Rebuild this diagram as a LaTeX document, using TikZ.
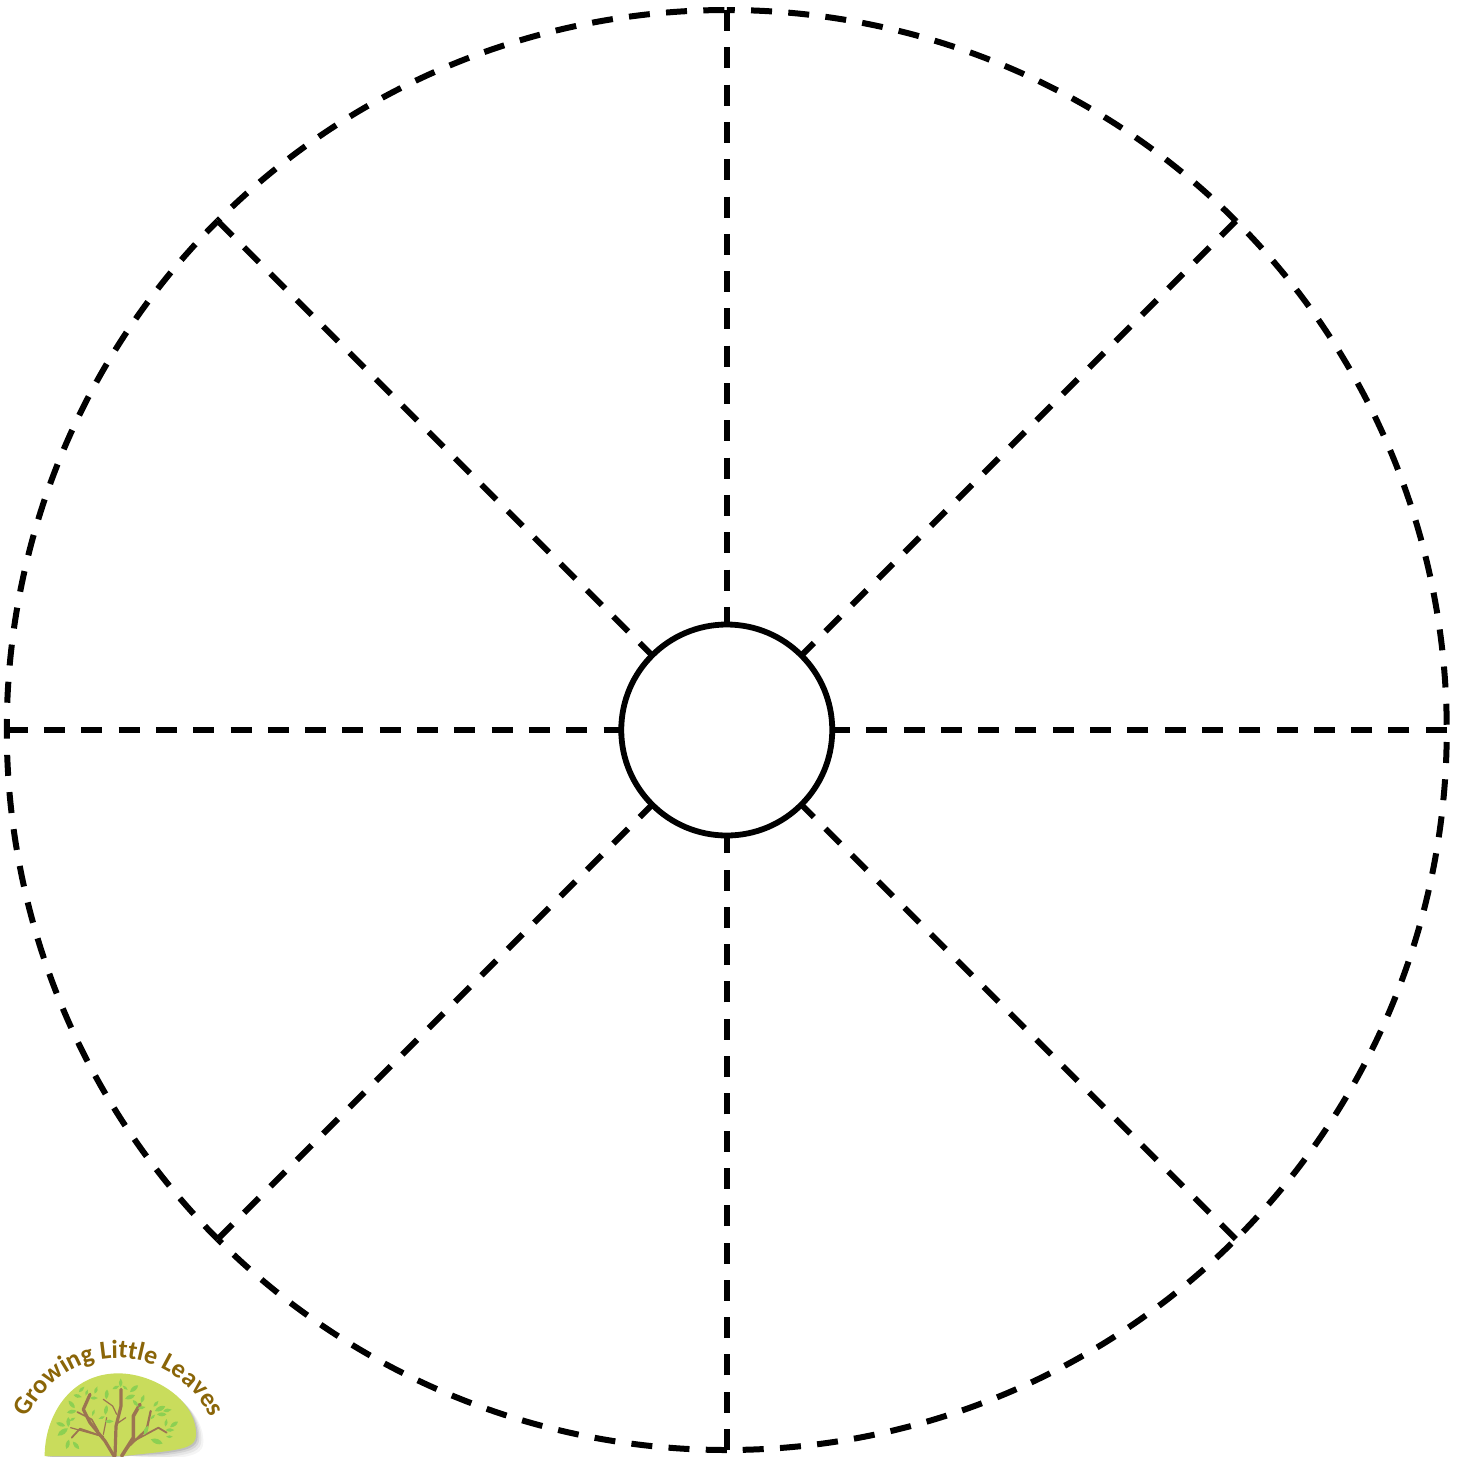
\documentclass[tikz,border=0pt]{standalone}
\usepackage{fontspec}
\setmainfont{Carlito}
\usetikzlibrary{decorations.text}
\definecolor{logotext}{HTML}{8A6508}
\definecolor{blob}{HTML}{C9DC5C}
\definecolor{bark}{HTML}{9C7452}
\definecolor{leafgreen}{HTML}{8CD052}
\tikzset{
  wheelline/.style={line width=3pt,color=black,dash pattern=on 10.5pt off 8.15pt},
  hubdisc/.style={circle,draw=black,fill=white,line width=2.9pt,minimum size=105.5pt,inner sep=0pt,outer sep=0pt},
  barkline/.style={draw=bark,line cap=round,line join=round},
  leaf/.style={fill=leafgreen}
}
\newcommand\lf[4]{\fill[leaf,shift={(#1,#2)},rotate=#3,scale=1.2*#4] (-12,0) .. controls (-4,-7) and (6,-6) .. (12,0) .. controls (6,6) and (-4,7) .. (-12,0) -- cycle;}
\begin{document}
\begin{tikzpicture}[x=0.5pt,y=-0.5pt]
\useasboundingbox (0,0) rectangle (1461,1456);
% rim points
\coordinate (n)  at (726.75,10);
\coordinate (ne) at (1235.85,220.9);
\coordinate (e)  at (1446.75,730);
\coordinate (se) at (1235.85,1239.1);
\coordinate (s)  at (726.75,1450);
\coordinate (sw) at (217.65,1239.1);
\coordinate (w)  at (6.75,730);
\coordinate (nw) at (217.65,220.9);
% rim arcs, clockwise
\draw[wheelline,dash phase=6.5pt]  (n)  arc[start angle=90,end angle=45,radius=360pt];
\draw[wheelline,dash phase=10.15pt](ne) arc[start angle=45,end angle=0,radius=360pt];
\draw[wheelline,dash phase=12.65pt](e)  arc[start angle=0,end angle=-45,radius=360pt];
\draw[wheelline,dash phase=15.5pt] (se) arc[start angle=-45,end angle=-90,radius=360pt];
\draw[wheelline,dash phase=0pt]    (s)  arc[start angle=-90,end angle=-135,radius=360pt];
\draw[wheelline,dash phase=1.3pt]  (sw) arc[start angle=-135,end angle=-180,radius=360pt];
\draw[wheelline,dash phase=5pt]    (w)  arc[start angle=180,end angle=135,radius=360pt];
\draw[wheelline,dash phase=8.75pt] (nw) arc[start angle=135,end angle=90,radius=360pt];
% hub and spokes
\node[hubdisc] (hub) at (726.75,730) {};
\draw[wheelline] (n)  -- (hub.90);
\draw[wheelline] (ne) -- (hub.45);
\draw[wheelline] (e)  -- (hub.0);
\draw[wheelline] (se) -- (hub.-45);
\draw[wheelline] (s)  -- (hub.-90);
\draw[wheelline] (sw) -- (hub.-135);
\draw[wheelline] (w)  -- (hub.180);
\draw[wheelline] (nw) -- (hub.135);
% logo
\path[decorate,decoration={text along path,text align=center,
  text={|\fontsize{13pt}{15pt}\selectfont\bfseries\color{logotext}|Growing Little Leaves}}]
  (24,1424) .. controls (44,1378) and (84,1358) .. (116,1358) .. controls (150,1358) and (192,1376) .. (214,1424);
\begin{scope}[shift={(40,1366)},x=0.1667pt,y=-0.1667pt]
  \foreach \d/\o in {22/.04,16/.06,10/.08,5/.1}{
    \fill[black,opacity=\o] (14+\d,290) .. controls (14+\d,150) and (90+\d,22+\d) .. (235+\d,22+\d) .. controls (340+\d,22+\d) and (468+\d,100+\d) .. (468+\d,205+\d) .. controls (468+\d,240+\d) and (440+\d,248+\d) .. (360+\d,258+\d) -- (250+\d,270) -- cycle;
  }
  \fill[blob] (14,270) .. controls (14,150) and (90,22) .. (235,22) .. controls (340,22) and (468,100) .. (468,205) .. controls (468,240) and (440,248) .. (360,258) -- (250,270) -- cycle;
  % branches
  \draw[barkline,line width=1.6pt] (222,270) -- (195,225) -- (150,170) -- (130,130) -- (150,85);
  \draw[barkline,line width=1.6pt] (225,270) -- (228,180) -- (243,120) -- (243,70);
  \draw[barkline,line width=1.8pt] (245,270) -- (280,215) -- (280,150) -- (300,115);
  \draw[barkline,line width=1.1pt] (262,245) -- (320,190) -- (332,135);
  \draw[barkline,line width=.9pt] (275,228) -- (355,185) -- (380,200);
  \draw[barkline,line width=.9pt] (190,212) -- (120,188) -- (95,215);
  \draw[barkline,line width=.6pt] (190,212) -- (92,185);
  \draw[barkline,line width=.8pt] (175,195) -- (155,160) -- (112,138);
  \draw[barkline,line width=.6pt] (228,175) -- (257,155);
  \draw[barkline,line width=.6pt] (190,205) -- (200,155);
  \draw[barkline,line width=.6pt] (230,145) -- (218,120) -- (190,100);
  % leaves
  \lf{125}{70}{45}{.8}\lf{140}{80}{70}{.7}\lf{168}{72}{70}{.8}\lf{113}{90}{-15}{.9}
  \lf{162}{96}{0}{.8}\lf{95}{115}{-50}{1}\lf{95}{137}{10}{1}\lf{200}{85}{85}{1}
  \lf{242}{50}{90}{.9}\lf{228}{64}{25}{.8}\lf{255}{65}{-40}{.7}\lf{282}{68}{40}{1.1}
  \lf{270}{93}{20}{1.1}\lf{287}{112}{-50}{.9}\lf{308}{98}{70}{.9}\lf{305}{125}{10}{.8}
  \lf{348}{113}{50}{.8}\lf{360}{128}{25}{1.2}\lf{382}{133}{10}{.9}\lf{365}{145}{0}{1}
  \lf{338}{153}{45}{.7}\lf{198}{132}{80}{1}\lf{160}{140}{70}{.7}\lf{185}{155}{20}{.7}
  \lf{208}{166}{0}{.9}\lf{97}{160}{30}{.7}\lf{85}{168}{90}{1}\lf{62}{175}{-20}{1}
  \lf{68}{198}{35}{1.3}\lf{83}{235}{75}{1}\lf{108}{238}{-50}{1}\lf{318}{193}{70}{1}
  \lf{378}{170}{80}{.8}\lf{402}{175}{35}{1}\lf{390}{192}{0}{.9}\lf{388}{212}{0}{.7}
  \lf{350}{226}{-20}{1.3}
\end{scope}
\end{tikzpicture}
\end{document}
